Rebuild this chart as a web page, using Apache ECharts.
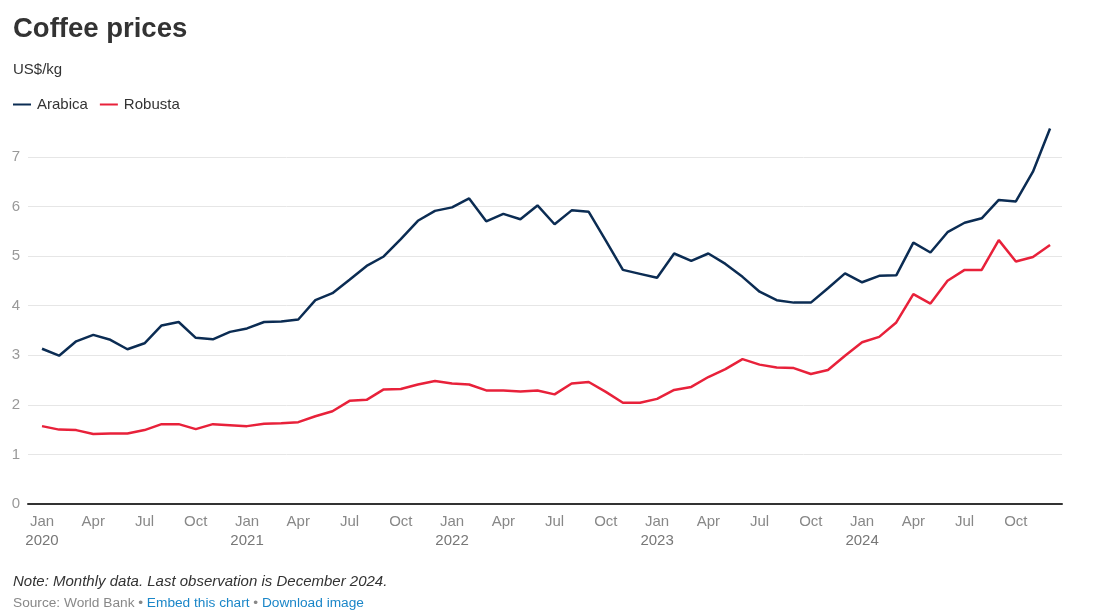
<!DOCTYPE html>
<html>
<head>
<meta charset="utf-8">
<script src="https://cdn.jsdelivr.net/npm/echarts@6/dist/echarts.min.js"></script>
<style>
html,body{margin:0;padding:0;background:#fff;}
#c{width:1095px;height:612px;}
</style>
</head>
<body>
<div id="c"></div>
<script>
const monthNames = ["Jan","Feb","Mar","Apr","May","Jun","Jul","Aug","Sep","Oct","Nov","Dec"];
const years = [2020, 2021, 2022, 2023, 2024];
const categories = [];
years.forEach(y => monthNames.forEach(m => categories.push(m + " " + y)));

const arabica = [
  3.13, 2.99, 3.28, 3.41, 3.31, 3.12, 3.24, 3.60, 3.67, 3.35, 3.32, 3.47,
  3.54, 3.67, 3.68, 3.72, 4.11, 4.25, 4.52, 4.80, 4.99, 5.34, 5.71, 5.91,
  5.98, 6.16, 5.70, 5.85, 5.74, 6.02, 5.64, 5.92, 5.89, 5.31, 4.72, 4.64,
  4.56, 5.05, 4.90, 5.05, 4.84, 4.58, 4.28, 4.11, 4.06, 4.06, 4.35, 4.65,
  4.47, 4.60, 4.61, 5.27, 5.07, 5.48, 5.67, 5.76, 6.13, 6.10, 6.70, 7.57
];
const robusta = [
  1.57, 1.50, 1.49, 1.41, 1.42, 1.42, 1.49, 1.61, 1.61, 1.51, 1.61, 1.59,
  1.57, 1.62, 1.63, 1.65, 1.77, 1.87, 2.08, 2.10, 2.31, 2.32, 2.41, 2.48,
  2.43, 2.41, 2.29, 2.29, 2.27, 2.29, 2.21, 2.43, 2.46, 2.26, 2.04, 2.04,
  2.12, 2.30, 2.36, 2.56, 2.72, 2.92, 2.81, 2.75, 2.74, 2.62, 2.70, 2.99,
  3.26, 3.37, 3.66, 4.23, 4.04, 4.50, 4.72, 4.72, 5.32, 4.89, 4.98, 5.22
];
const xTickIdx = [0,3,6,9,12,15,18,21,24,27,30,33,36,39,42,45,48,51,54,57];
const yTicks = [0,1,2,3,4,5,6,7];

const chart = echarts.init(document.getElementById('c'), null, {renderer:'canvas'});
const FONT = 'Liberation Sans, Arial, sans-serif';

const toPairs = arr => arr.map((v, i) => [i, v]);

chart.setOption({
  animation: false,
  backgroundColor: '#ffffff',
  textStyle: { fontFamily: FONT },
  title: [
    { text: 'Coffee prices', left: 8, top: 10,
      textStyle: { fontFamily: FONT, fontSize: 27.5, fontWeight: 'bold', color: '#333333' } },
    { text: 'US$/kg', left: 8, top: 57,
      textStyle: { fontFamily: FONT, fontSize: 15, fontWeight: 'normal', color: '#333333' } },
    { text: 'Note: Monthly data. Last observation is December 2024.', left: 8, top: 569,
      textStyle: { fontFamily: FONT, fontSize: 15, fontStyle: 'italic', fontWeight: 'normal', color: '#333333' } },
    { text: '{g|Source: World Bank • }{b|Embed this chart}{g| • }{b|Download image}', left: 8, top: 591,
      textStyle: { fontFamily: FONT, fontSize: 13.7, fontWeight: 'normal',
        rich: {
          g: { fontFamily: FONT, fontSize: 13.7, color: '#888888' },
          b: { fontFamily: FONT, fontSize: 13.7, color: '#1a86c8' }
        } } }
  ],
  legend: {
    left: 8, top: 92,
    itemWidth: 18, itemHeight: 2, itemGap: 12,
    icon: 'rect',
    textStyle: { fontFamily: FONT, fontSize: 15, color: '#333333', padding: [0,0,0,1] },
    data: ['Arabica', 'Robusta']
  },
  grid: { left: 28, right: 33, top: 107.2, bottom: 108, containLabel: false },
  xAxis: {
    type: 'value',
    min: -0.82, max: 59.7,
    splitLine: { show: false },
    axisLine: { show: true, onZero: false, lineStyle: { color: '#333333', width: 2 } },
    axisTick: { show: false },
    axisLabel: {
      customValues: xTickIdx,
      margin: 8,
      lineHeight: 19,
      fontFamily: FONT,
      fontSize: 15,
      color: '#888888',
      formatter: v => {
        const i = Math.round(v);
        const m = monthNames[i % 12];
        if (i % 12 === 0) return '{m|' + m + '}\n{y|' + years[Math.floor(i / 12)] + '}';
        return '{m|' + m + '}';
      },
      rich: {
        m: { fontFamily: FONT, fontSize: 15, color: '#888888', lineHeight: 19 },
        y: { fontFamily: FONT, fontSize: 15, color: '#777777', lineHeight: 19 }
      }
    }
  },
  yAxis: {
    type: 'value',
    min: 0, max: 8, interval: 1,
    axisLine: { show: false },
    axisTick: { show: false },
    splitLine: { show: true, showMaxLine: false, lineStyle: { color: '#e6e6e6', width: 1 } },
    axisLabel: {
      showMaxLabel: false,
      margin: 8,
      fontFamily: FONT, fontSize: 15, color: '#999999',
      formatter: v => (yTicks.indexOf(v) >= 0 ? String(v) : '')
    }
  },
  series: [
    { name: 'Arabica', type: 'line', data: toPairs(arabica), showSymbol: false, symbol: 'none',
      lineStyle: { color: '#0b2c53', width: 2.5 }, itemStyle: { color: '#0b2c53' }, z: 3 },
    { name: 'Robusta', type: 'line', data: toPairs(robusta), showSymbol: false, symbol: 'none',
      lineStyle: { color: '#e8213a', width: 2.5 }, itemStyle: { color: '#e8213a' }, z: 2 }
  ]
});
</script>
</body>
</html>
